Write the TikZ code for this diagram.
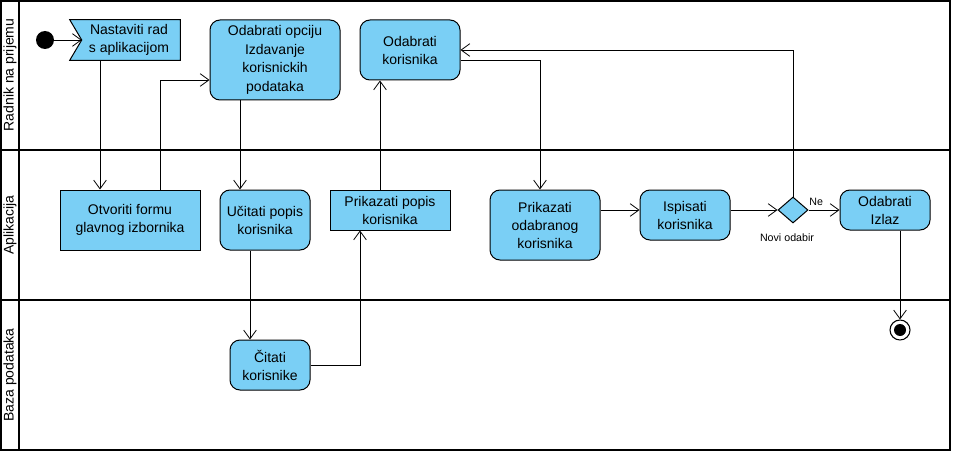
\documentclass[tikz,border=0pt]{standalone}
\usepackage{fontspec}
\setmainfont{Liberation Sans}
\usetikzlibrary{arrows.meta,shapes.geometric}
\definecolor{akcija}{RGB}{122,207,245}
\begin{document}
\begin{tikzpicture}[x=0.75pt,y=-0.75pt,
    akcija/.style={draw=black,line width=0.75pt,fill=akcija,rounded corners=7.5pt,align=center,inner sep=0pt,
      font=\fontsize{10.5}{13.5}\selectfont},
    pravokutnik/.style={akcija,rounded corners=0pt},
    veza/.style={line width=0.6pt,-{Straight Barb[length=6.5pt,width=9.5pt]}},
    traka/.style={line width=1.5pt},
    mali/.style={font=\fontsize{8}{9.6}\selectfont,inner sep=1pt}]
    \useasboundingbox (0,0) rectangle (956,456);

    % Swimlanes
    \draw[traka] (1,1) rectangle (950,450);
    \draw[traka] (19,1) -- (19,450);
    \draw[traka] (1,150) -- (950,150);
    \draw[traka] (1,300) -- (950,300);
    \node[rotate=90,font=\fontsize{10.5}{13}\selectfont] (radnik) at (10,75) {Radnik na prijemu};
    \node[rotate=90,font=\fontsize{10.5}{13}\selectfont] (aplikacija) at (10,225) {Aplikacija};
    \node[rotate=90,font=\fontsize{10.5}{13}\selectfont] (baza) at (10,375) {Baza podataka};

    % Start and end
    \node[circle,fill=black,minimum size=13.5pt,inner sep=0pt] (pocetak) at (45,40) {};
    \node[circle,draw=black,line width=0.8pt,minimum size=15pt,inner sep=0pt] (kraj) at (900,330) {};
    \node[circle,fill=black,minimum size=9pt,inner sep=0pt] (krajT) at (900,330) {};

    % Actions
    \node[inner sep=0pt,minimum width=82.5pt,minimum height=30pt] (nastaviti) at (125,40) {};
    \draw[fill=akcija,line width=0.75pt] (nastaviti.north west) -- (nastaviti.north east) -- (nastaviti.south east)
      -- (nastaviti.south west) -- ([xshift=9pt]nastaviti.west) -- cycle;
    \coordinate (usjek) at ([xshift=9pt]nastaviti.west);
    \node[align=center,inner sep=0pt,font=\fontsize{10.5}{13.5}\selectfont] (nastavitiTekst) at ([xshift=3pt]nastaviti)
      {Nastaviti rad\\s aplikacijom};
    \node[akcija,minimum width=97.5pt,minimum height=60pt,font=\fontsize{10.5}{14}\selectfont] (opciju) at (275,60)
      {Odabrati opciju\\Izdavanje\\korisnickih\\podataka};
    \node[akcija,minimum width=75pt,minimum height=45pt] (odabratiKor) at (410,50) {Odabrati\\korisnika};
    \node[pravokutnik,minimum width=105pt,minimum height=45pt] (otvoriti) at (130,220) {Otvoriti formu\\glavnog izbornika};
    \node[akcija,minimum width=67.5pt,minimum height=45pt] (ucitati) at (265,220) {Učitati popis\\korisnika};
    \node[pravokutnik,minimum width=90pt,minimum height=30pt] (prikPopis) at (390,210) {Prikazati popis\\korisnika};
    \node[akcija,minimum width=82.5pt,minimum height=52.5pt] (prikOdab) at (545,225) {Prikazati\\odabranog\\korisnika};
    \node[akcija,minimum width=67.5pt,minimum height=37.5pt] (ispisati) at (685,215) {Ispisati\\korisnika};
    \node[diamond,draw=black,line width=0.75pt,fill=akcija,minimum width=22.5pt,minimum height=19.5pt,
      inner sep=0pt] (odluka) at (793,210) {};
    \node[mali] (noviOdabir) at (787,238) {Novi odabir};
    \node[akcija,minimum width=67.5pt,minimum height=30pt] (izlaz) at (885,210) {Odabrati\\Izlaz};
    \node[akcija,minimum width=60pt,minimum height=37.5pt] (citati) at (270,365) {Čitati\\korisnike};

    % Flows
    \draw[veza] (pocetak) -- (usjek);
    \draw[veza] ([xshift=-18.75pt]nastaviti.south) -- ([xshift=-18.75pt]nastaviti.south |- otvoriti.north);
    \draw[veza] ([xshift=22.5pt]otvoriti.north) |- ([yshift=-15pt]opciju.west);
    \draw[veza] ([xshift=-26.25pt]opciju.south) -- ([xshift=-26.25pt]opciju.south |- ucitati.north);
    \draw[veza] ([xshift=-11.25pt]ucitati.south) -- ([xshift=-11.25pt]ucitati.south |- citati.north);
    \draw[veza] (citati.east) -| ([xshift=-22.5pt]prikPopis.south);
    \draw[veza] ([xshift=-7.5pt]prikPopis.north) -- ([xshift=-7.5pt]prikPopis.north |- odabratiKor.south);
    \draw[veza] ([yshift=-7.5pt]odabratiKor.east) -| ([xshift=-3.75pt]prikOdab.north);
    \draw[veza] (prikOdab.east |- odluka) -- (ispisati.west |- odluka);
    \draw[veza] (ispisati.east |- odluka) -- (odluka.west);
    \draw[veza] (odluka.north) |- (odabratiKor.east);
    \draw[veza] (odluka.east) -- node[mali,above=2pt,pos=0.25] (ne) {Ne} (izlaz.west);
    \draw[veza] (kraj |- izlaz.south) -- (kraj.north);
\end{tikzpicture}
\end{document}
